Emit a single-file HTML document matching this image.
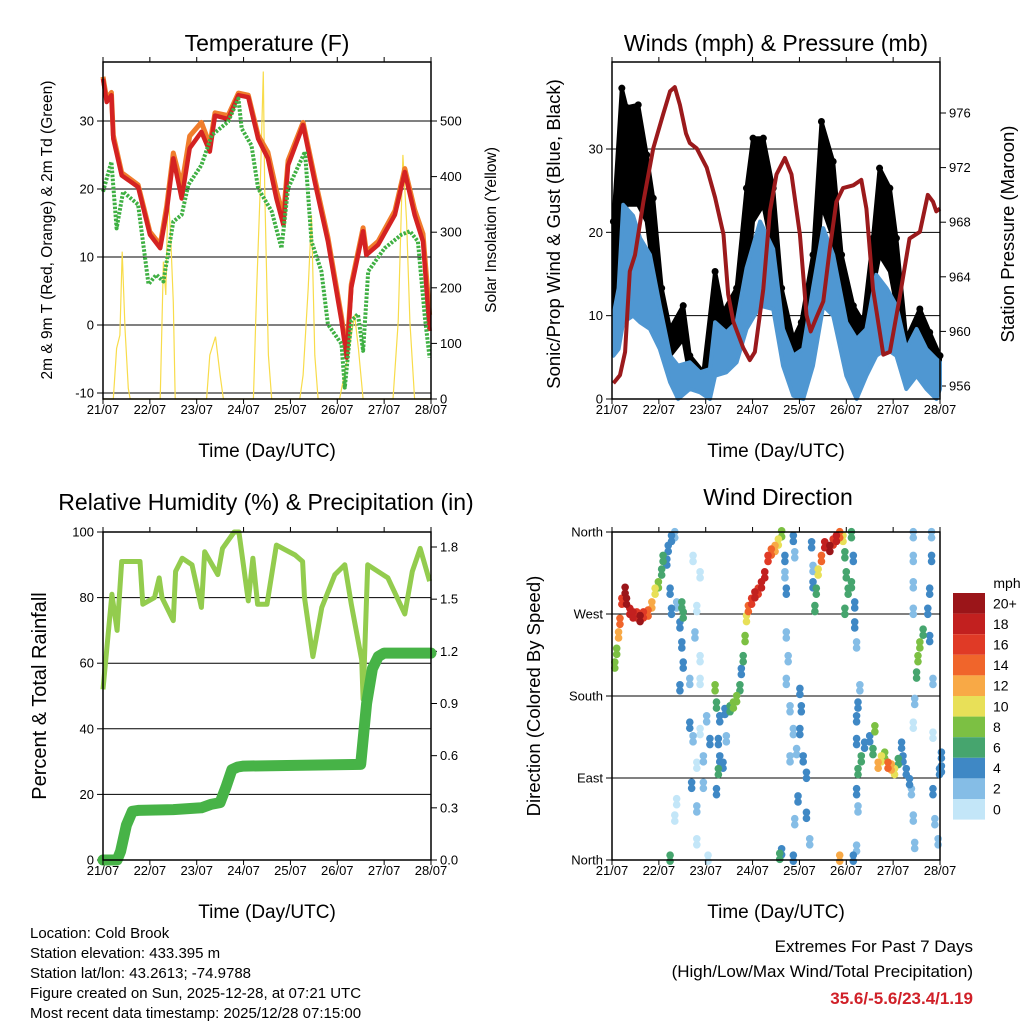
<!DOCTYPE html>
<html><head><meta charset="utf-8"><style>
html,body{margin:0;padding:0;background:#fff;}
svg{display:block;font-family:"Liberation Sans",sans-serif;}
</style></head><body>
<svg id="chart" width="1024" height="1024" viewBox="0 0 1024 1024" xmlns="http://www.w3.org/2000/svg"></svg>
<script>
// ---------- DATA ----------
const dayLabels = ["21/07","22/07","23/07","24/07","25/07","26/07","27/07","28/07"];
// Temperature panel
const tDays = [0,0.08,0.18,0.22,0.4,0.75,1.0,1.22,1.36,1.5,1.68,1.85,2.1,2.28,2.39,2.67,2.89,3.1,3.31,3.52,3.7,3.85,3.95,4.27,4.52,4.8,5.09,5.2,5.3,5.55,5.62,5.87,6.23,6.44,6.65,6.83,6.97];
const temp2m = [36.2,32.8,33.8,27.4,22,20.3,13.3,11.3,16.7,24.5,18.6,26,28.4,25.5,30.8,30.3,33.8,33.5,27.4,24.5,18.6,14.7,23.5,29.4,21,12.3,0.6,-4.8,5.5,13.8,10.3,11.8,16.2,22.5,16.2,12.3,-0.9];
const temp9m = [36.5,33.2,34.2,27.9,22.4,20.6,13.7,11.8,17.5,25.3,20.5,27.8,29.8,26.5,31.2,30.8,34.1,33.8,27.9,25.4,19.8,16.0,24.2,29.8,21.6,12.9,1.2,-4.2,6.0,14.3,10.8,12.3,16.8,23.0,17.0,13.4,1.5];
const tdDays = [0,0.18,0.29,0.43,0.75,0.97,1.14,1.29,1.5,1.68,1.82,2.1,2.32,2.67,2.89,2.96,3.17,3.31,3.6,3.81,3.95,4.31,4.45,4.66,4.8,5.09,5.16,5.3,5.44,5.55,5.66,6.01,6.37,6.55,6.72,6.87,6.97];
const dew2m = [19.6,24,14.2,19.6,17.7,6,7.4,6.4,15.2,16.2,20.6,23.5,27.9,29.9,33.3,28.9,26.4,20.1,16.7,11.3,20.1,25.5,12.3,7.9,0.1,-2.8,-9.2,0.6,1.6,-3.8,7.9,11.3,13.3,13.8,12.3,1.1,-4.8];
const solarDays = [0,0.22,0.29,0.36,0.41,0.47,0.54,0.58,1.22,1.29,1.34,1.39,1.45,1.50,1.54,2.21,2.28,2.40,2.50,2.57,3.21,3.28,3.35,3.42,3.45,3.53,3.60,4.20,4.27,4.38,4.45,4.52,4.59,5.05,5.23,5.37,5.45,5.55,6.19,6.30,6.40,6.48,6.55,6.65,7];
const solar = [0,0,91,115,265,127,19,0,0,247,187,378,282,174,0,0,79,112,43,0,0,199,367,589,379,79,0,0,43,199,331,79,0,0,79,151,91,0,0,139,439,319,139,0,0];
// Wind panel
const pDays = [0.03,0.17,0.28,0.38,0.49,0.67,0.88,1.09,1.24,1.34,1.45,1.58,1.66,1.81,2.02,2.2,2.38,2.48,2.59,2.8,2.94,3.05,3.23,3.37,3.51,3.69,3.83,4.01,4.15,4.24,4.36,4.51,4.65,4.79,4.93,5.15,5.32,5.43,5.57,5.79,5.93,6.14,6.35,6.57,6.74,6.85,6.92,7.0];
const pressure = [956.2,956.8,958.5,964.4,965.6,969.5,973.4,975.9,977.6,977.9,976.6,974.5,973.8,973.4,972,969.8,967.1,962.7,960.7,958.8,957.9,958.5,963.1,968.8,971.5,972.7,971.5,967.1,961.2,960,961,962.2,966.1,969.5,970.5,970.7,971.1,969,963.1,958.3,958.5,962.5,966.8,967.3,970,969.5,968.8,969];
const windDays = [0.03,0.14,0.24,0.45,0.6,0.81,1.02,1.24,1.41,1.66,1.88,2.09,2.2,2.44,2.66,2.87,3.16,3.44,3.65,3.87,4.08,4.29,4.51,4.72,5.0,5.22,5.43,5.64,5.86,6.07,6.28,6.5,6.71,6.92,7.0];
const windHi = [10,13.3,23.3,22,19.3,17.3,11.2,5.2,4,4.4,3.2,3.6,9.2,8,9.2,15.7,21.3,18,8.4,5.2,6,13.3,20.5,17.3,9.2,7.2,8.4,14.9,13.3,11.2,6,8.4,6,4.8,4.4];
const windLo = [5.2,6,9.2,10,9.2,8.4,6,2,0,1.2,0.8,0,2.8,3.2,4.4,8.4,11.2,10.8,4,0.4,0,4,11.2,10,2.8,0,2.8,5.2,6,5.2,1.2,2.8,1.2,0,1.2];
const gustDays = [0.03,0.21,0.31,0.56,0.74,0.88,1.06,1.24,1.52,1.66,1.95,2.2,2.37,2.66,2.87,3.01,3.23,3.44,3.62,3.87,4.04,4.29,4.47,4.72,4.9,5.15,5.36,5.57,5.71,5.93,6.07,6.28,6.57,6.78,7.0];
const gustHi = [21.3,37.3,35,35.3,29.3,24.1,13.3,8.4,11.2,5.2,3.2,15.3,10.4,13.3,25.3,31.3,31.3,25.3,13.3,7.2,9.2,17.3,33.3,28.5,17.3,11.2,9.2,19.3,27.7,25.3,19.3,7.2,10.8,8,5.2];
const gustLo = [10,17.3,23.3,23.3,21.3,15.3,9.2,5.2,7.2,2.8,1.6,5.2,7.2,8,13.3,21.3,23.3,17.3,6.4,3.2,5.2,9.2,23.3,19.3,9.2,6,4.4,13.3,17.3,15.3,11.2,3.2,5.2,3.2,2];
// RH panel
const rhDays = [0,0.19,0.3,0.4,0.79,0.85,1.1,1.2,1.26,1.5,1.55,1.69,1.9,2.1,2.17,2.45,2.55,2.8,2.9,3.1,3.2,3.3,3.5,3.7,4.1,4.26,4.3,4.48,4.67,4.95,5.16,5.3,5.52,5.55,5.65,6.08,6.44,6.6,6.77,6.97];
const rh = [52,81,70,91,91,78,80,86,80,73,88,92,90,77,94,87,95,100,100,79,92,78,78,96,93,91,80,62,77,87,90,78,61,49,90,86,75,88,95,85];
const prDays = [0,0.3,0.375,0.5,0.625,0.75,1.5,2.1,2.3,2.5,2.625,2.75,2.875,3.0,5.5,5.625,5.75,5.875,6.0,7.0];
const precip = [0,0,0.05,0.2,0.28,0.285,0.29,0.3,0.32,0.33,0.42,0.52,0.535,0.54,0.55,0.9,1.1,1.17,1.19,1.19];
// Wind direction panel
const dirDays = [0.06,0.10,0.14,0.17,0.21,0.28,0.31,0.38,0.45,0.53,0.60,0.67,0.77,0.85,0.92,0.99,1.06,1.09,1.17,1.20,1.27,1.34,1.24,1.27,1.38,1.45,1.49,1.52,1.45,1.52,1.49,
 1.73,1.88,1.81,1.77,1.88,1.66,1.88,1.66,1.73,1.81,1.88,1.95,2.02,2.09,1.70,1.81,1.38,1.34,1.81,1.24,2.05,1.95,
 2.20,2.23,2.30,2.41,2.52,2.59,2.66,2.73,2.76,2.80,2.84,2.87,2.91,2.98,3.05,3.12,3.19,3.26,3.33,3.40,3.48,3.55,3.62,2.27,2.30,2.27,2.23,2.44,2.37,
 3.69,3.69,3.72,3.72,3.76,3.72,3.87,3.90,3.80,3.87,3.94,3.80,4.01,4.04,4.01,4.08,4.15,3.97,4.15,3.90,4.22,3.62,3.87,3.58,
 4.26,4.29,4.29,4.33,4.36,4.40,4.47,4.54,4.65,4.72,4.79,4.86,4.93,4.97,5.00,5.04,4.97,5.11,5.15,5.11,5.18,4.86,
 5.18,5.22,5.29,5.25,5.22,5.22,5.25,5.22,5.25,5.22,5.15,
 5.32,5.39,5.50,5.57,5.61,5.68,5.75,5.82,5.89,5.96,6.03,6.11,6.18,6.21,6.28,6.35,6.39,6.43,6.46,
 6.43,6.43,6.43,6.43,6.82,6.82,6.78,6.74,6.78,6.64,6.57,6.53,6.50,6.85,6.46,6.43,6.85,7.03,6.99,6.85,6.89,6.96,7.03];
const dirVals = [214,229,247,262,284,296,284,273,269,269,265,269,271,280,295,302,316,331,327,342,353,357,295,273,280,258,236,214,189,269,280,
 331,313,276,247,221,196,196,148,133,104,141,111,155,130,82,56,64,46,20,2,2,82,
 189,170,155,163,166,170,177,189,207,221,243,265,276,284,291,295,302,313,331,338,342,349,358,130,111,97,75,133,104,
 331,313,295,247,221,196,353,335,166,141,119,111,185,166,141,111,93,67,49,42,20,9,2,4,
 346,320,302,276,295,316,331,346,342,349,353,357,353,335,313,295,273,357,331,302,280,2,
 258,236,189,170,155,130,97,75,56,13,2,
 111,126,133,119,144,104,111,115,104,102,97,108,126,111,97,86,75,46,16,
 357,331,302,273,357,331,295,273,243,250,236,221,203,196,174,148,137,115,97,75,42,20,100];
const dirSpeed = [8,8,12,14,16,20,20,18,18,16,20,16,14,12,10,8,6,6,4,4,4,2,4,4,2,4,4,4,4,6,6,
 0,0,0,2,0,2,0,4,2,0,0,2,2,4,4,2,0,0,0,6,0,2,
 8,6,4,4,6,8,8,6,4,6,8,10,14,16,18,16,18,18,16,14,12,10,8,4,4,6,4,2,4,
 4,2,4,2,2,2,4,2,2,2,2,2,4,4,4,4,4,4,4,2,2,4,4,6,
 4,2,4,6,6,10,14,18,20,16,18,14,10,6,6,6,6,6,4,6,4,12,
 4,2,2,4,4,4,6,4,2,2,4,
 6,4,4,6,8,12,10,8,14,12,10,6,4,4,4,4,2,2,2,
 2,2,2,2,2,4,4,4,4,6,8,8,6,2,2,0,0,4,4,4,2,2,4];
const speedLabels = ["20+","18","16","14","12","10","8","6","4","2","0"];
const speedColors = ["#9b1519","#c2201f","#e03a26","#f0652b","#f8a946","#e8e058","#7cc043","#46a56e","#3f88c5","#85bde6","#c3e6f8"];
const rightLabels1 = [0,100,200,300,400,500];
const leftTicks1 = [-10,0,10,20,30];
const leftTicks2 = [0,10,20,30];
const rightTicks2 = [956,960,964,968,972,976];
const leftTicks3 = [0,20,40,60,80,100];
const rightTicks3 = [0.0,0.3,0.6,0.9,1.2,1.5,1.8];
const dirTicks = [0,90,180,270,360];
const dirNames = ["North","East","South","West","North"];

// ---------- HELPERS ----------
const NS = "http://www.w3.org/2000/svg";
const svg = document.getElementById("chart");
function mk(tag, attrs, parent){
  const e = document.createElementNS(NS, tag);
  for (const k in attrs) e.setAttribute(k, attrs[k]);
  (parent||svg).appendChild(e);
  return e;
}
function txt(s, x, y, size, anchor, parent, extra){
  const t = mk("text", Object.assign({x:x, y:y, "font-size":size, "text-anchor":anchor||"middle", fill:"#000"}, extra||{}), parent);
  t.textContent = s;
  return t;
}
function lin(d0,d1,r0,r1){ return v => r0 + (v-d0)*(r1-r0)/(d1-d0); }
function pts(xs, ys, fx, fy){ return xs.map((d,i)=>fx(d).toFixed(1)+","+fy(ys[i]).toFixed(1)).join(" "); }

function panel(name){
  const g = mk("g", {});
  
  
  return g;
}
function frame(g, x0,x1,y0,y1){
  const r = mk("rect",{x:x0,y:y0,width:x1-x0,height:y1-y0,fill:"none",stroke:"#000","stroke-width":1.5}, g);
  
  
  const fx = lin(0,7,x0,x1);
  for (let i=0;i<=7;i++){
    const x = fx(i);
    const t1 = mk("line",{x1:x,x2:x,y1:y1,y2:y1+5,stroke:"#000","stroke-width":1}, g);
    
    
    const t2 = mk("line",{x1:x,x2:x,y1:y0,y2:y0-5,stroke:"#000","stroke-width":1}, g);
    
    
    const lb = txt(dayLabels[i], x, y1+15, 13, "middle", g);
    
    
  }
  const xt = txt("Time (Day/UTC)", (x0+x1)/2, y1+58, 19, "middle", g);
  
  
  return fx;
}
function hgrid(g, y, x0, x1){
  const l = mk("line",{x1:x0,x2:x1,y1:y,y2:y,stroke:"#000","stroke-width":1}, g);
  
  
}
function ytick(g, x, y, side, label, anchor, name){
  const l = mk("line",{x1:x,x2:x+(side<0?-6:6),y1:y,y2:y,stroke:"#000","stroke-width":1}, g);
  
  
  const t = txt(label, x+(side<0?-9:9), y+4.5, 13, anchor, g);
  
  
}
function vtitle(g, s, x, y, size, name){
  const t = txt(s, x, y, size, "middle", g, {transform:"rotate(-90 "+x+" "+y+")"});
  
  
}
function title(g, s, x, y){
  const t = txt(s, x, y, 23, "middle", g);
  
  
}

// ---------- PANEL 1: TEMPERATURE ----------
(function(){
  const x0=103,x1=431,y0=62,y1=399;
  const g = panel("temperature-panel");
  const fx = lin(0,7,x0,x1);
  const fy = lin(-10,30,393,121);
  const fs = lin(0,500,399,121);
  leftTicks1.forEach(v=>{ hgrid(g, fy(v), x0, x1); ytick(g, x0, fy(v), -1, String(v), "end", "temp-y"); });
  rightLabels1.forEach(v=>{ ytick(g, x1, fs(v), 1, String(v), "start", "solar-y"); });
  const sol = mk("polyline",{points:pts(solarDays, solar, fx, fs), fill:"none", stroke:"#f8dc4a","stroke-width":1.2}, g);
  
  
  const o = mk("polyline",{points:pts(tDays, temp9m, fx, fy), fill:"none", stroke:"#f07d2c","stroke-width":5,"stroke-linejoin":"round"}, g);
  
  
  const r = mk("polyline",{points:pts(tDays, temp2m, fx, fy), fill:"none", stroke:"#d42222","stroke-width":4.5,"stroke-linejoin":"round"}, g);
  
  
  const d = mk("polyline",{points:pts(tdDays, dew2m, fx, fy), fill:"none", stroke:"#3fb043","stroke-width":4,"stroke-dasharray":"2.5 1.5","stroke-linejoin":"round"}, g);
  
  
  frame(g,x0,x1,y0,y1);
  title(g, "Temperature (F)", 267, 51);
  vtitle(g, "2m & 9m T (Red, Orange) & 2m Td (Green)", 52, 230, 15.5, "temp-y-axis-title");
  vtitle(g, "Solar Insolation (Yellow)", 496, 230, 15.5, "solar-y-axis-title");
})();

// ---------- PANEL 2: WINDS ----------
(function(){
  const x0=612,x1=940,y0=62,y1=399;
  const g = panel("winds-panel");
  const fx = lin(0,7,x0,x1);
  const fy = lin(0,30,399,149);
  const fp = lin(956,976,386,113);
  leftTicks2.forEach(v=>{ if(v>0) hgrid(g, fy(v), x0, x1); ytick(g, x0, fy(v), -1, String(v), "end", "wind-y"); });
  rightTicks2.forEach(v=>{ ytick(g, x1, fp(v), 1, String(v), "start", "pressure-y"); });
  const gustPoly = pts(gustDays, gustHi, fx, fy) + " " + pts(gustDays.slice().reverse(), gustLo.slice().reverse(), fx, fy);
  const gb = mk("polygon",{points:gustPoly, fill:"#000", stroke:"#000","stroke-width":4,"stroke-linejoin":"round"}, g);
  
  
  gustDays.forEach((dd,i)=>{
    const c = mk("circle",{cx:fx(dd), cy:fy(gustHi[i]), r:3.5, fill:"#000"}, g);
    
    
  });
  const windPoly = pts(windDays, windHi, fx, fy) + " " + pts(windDays.slice().reverse(), windLo.slice().reverse(), fx, fy);
  const wb = mk("polygon",{points:windPoly, fill:"#4f97d2", stroke:"#4f97d2","stroke-width":4,"stroke-linejoin":"round"}, g);
  
  
  const p = mk("polyline",{points:pts(pDays, pressure, fx, fp), fill:"none", stroke:"#9b1a1c","stroke-width":4,"stroke-linejoin":"round"}, g);
  
  
  frame(g,x0,x1,y0,y1);
  title(g, "Winds (mph) & Pressure (mb)", 776, 51);
  vtitle(g, "Sonic/Prop Wind & Gust (Blue, Black)", 560, 234, 18.5, "wind-y-axis-title");
  vtitle(g, "Station Pressure (Maroon)", 1014, 234, 18.5, "pressure-y-axis-title");
})();

// ---------- PANEL 3: RH & PRECIP ----------
(function(){
  const x0=103,x1=431,y0=532,y1=860;
  const g = panel("humidity-precip-panel");
  const fx = lin(0,7,x0,x1);
  const fy = lin(0,100,860,532);
  const fr = lin(0,1.8,860,547);
  leftTicks3.forEach(v=>{ if(v>0&&v<100) hgrid(g, fy(v), x0, x1); ytick(g, x0, fy(v), -1, String(v), "end", "rh-y"); });
  rightTicks3.forEach(v=>{ ytick(g, x1, fr(v), 1, v.toFixed(1), "start", "precip-y"); });
  const r = mk("polyline",{points:pts(rhDays, rh, fx, fy), fill:"none", stroke:"#93cc4e","stroke-width":5,"stroke-linejoin":"round"}, g);
  
  
  const p = mk("polyline",{points:pts(prDays, precip, fx, fr), fill:"none", stroke:"#47b347","stroke-width":11,"stroke-linejoin":"round","stroke-linecap":"round"}, g);
  
  
  frame(g,x0,x1,y0,y1);
  title(g, "Relative Humidity (%) & Precipitation (in)", 266, 510);
  vtitle(g, "Percent & Total Rainfall", 46, 696, 20, "rh-y-axis-title");
})();

// ---------- PANEL 4: WIND DIRECTION ----------
(function(){
  const x0=612,x1=940,y0=532,y1=860;
  const g = panel("wind-direction-panel");
  const fx = lin(0,7,x0,x1);
  const fy = lin(0,360,860,532);
  dirTicks.forEach((v,i)=>{ if(v>0&&v<360) hgrid(g, fy(v), x0, x1); ytick(g, x0, fy(v), -1, dirNames[i], "end", "direction-y"); });
  function col(s){ const idx = Math.min(10, Math.floor(s/2)); return speedColors[10-idx]; }
  const order = dirSpeed.map((s,i)=>i).sort((a,b)=>dirSpeed[a]-dirSpeed[b]);
  order.forEach(i=>{
    [-3,3].forEach(off=>{
      const c = mk("circle",{cx:fx(dirDays[i]), cy:fy(dirVals[i])+off, r:3.8, fill:col(dirSpeed[i])}, g);
      
      
    });
  });
  frame(g,x0,x1,y0,y1);
  title(g, "Wind Direction", 778, 505);
  vtitle(g, "Direction (Colored By Speed)", 540, 696, 18.5, "direction-y-axis-title");
  const cb = mk("g",{}, svg);
  
  
  const mt = txt("mph", 1007, 588, 14, "middle", cb);
  
  
  const h = 20.6;
  speedLabels.forEach((lab,i)=>{
    const rr = mk("rect",{x:953,y:593+i*h,width:32,height:h,fill:speedColors[i]}, cb);
    
    
    const tl = txt(lab, 993, 593+i*h+h/2+5, 14, "start", cb);
    
    
  });
})();

// ---------- FOOTER ----------
(function(){
  const g = mk("g",{});
  
  
  const lines = ["Location: Cold Brook","Station elevation: 433.395 m","Station lat/lon: 43.2613; -74.9788","Figure created on Sun, 2025-12-28, at 07:21 UTC","Most recent data timestamp: 2025/12/28 07:15:00"];
  lines.forEach((s,i)=>{
    const t = txt(s, 30, 938+i*20, 15, "start", g);
    
    
  });
  const e = mk("g",{});
  
  
  const a = txt("Extremes For Past 7 Days", 973, 952, 17, "end", e);
  
  
  const b = txt("(High/Low/Max Wind/Total Precipitation)", 973, 977, 17, "end", e);
  
  
  const c = txt("35.6/-5.6/23.4/1.19", 973, 1004, 17, "end", e, {fill:"#d02028","font-weight":"bold"});
  
  
})();
</script>
</body></html>
